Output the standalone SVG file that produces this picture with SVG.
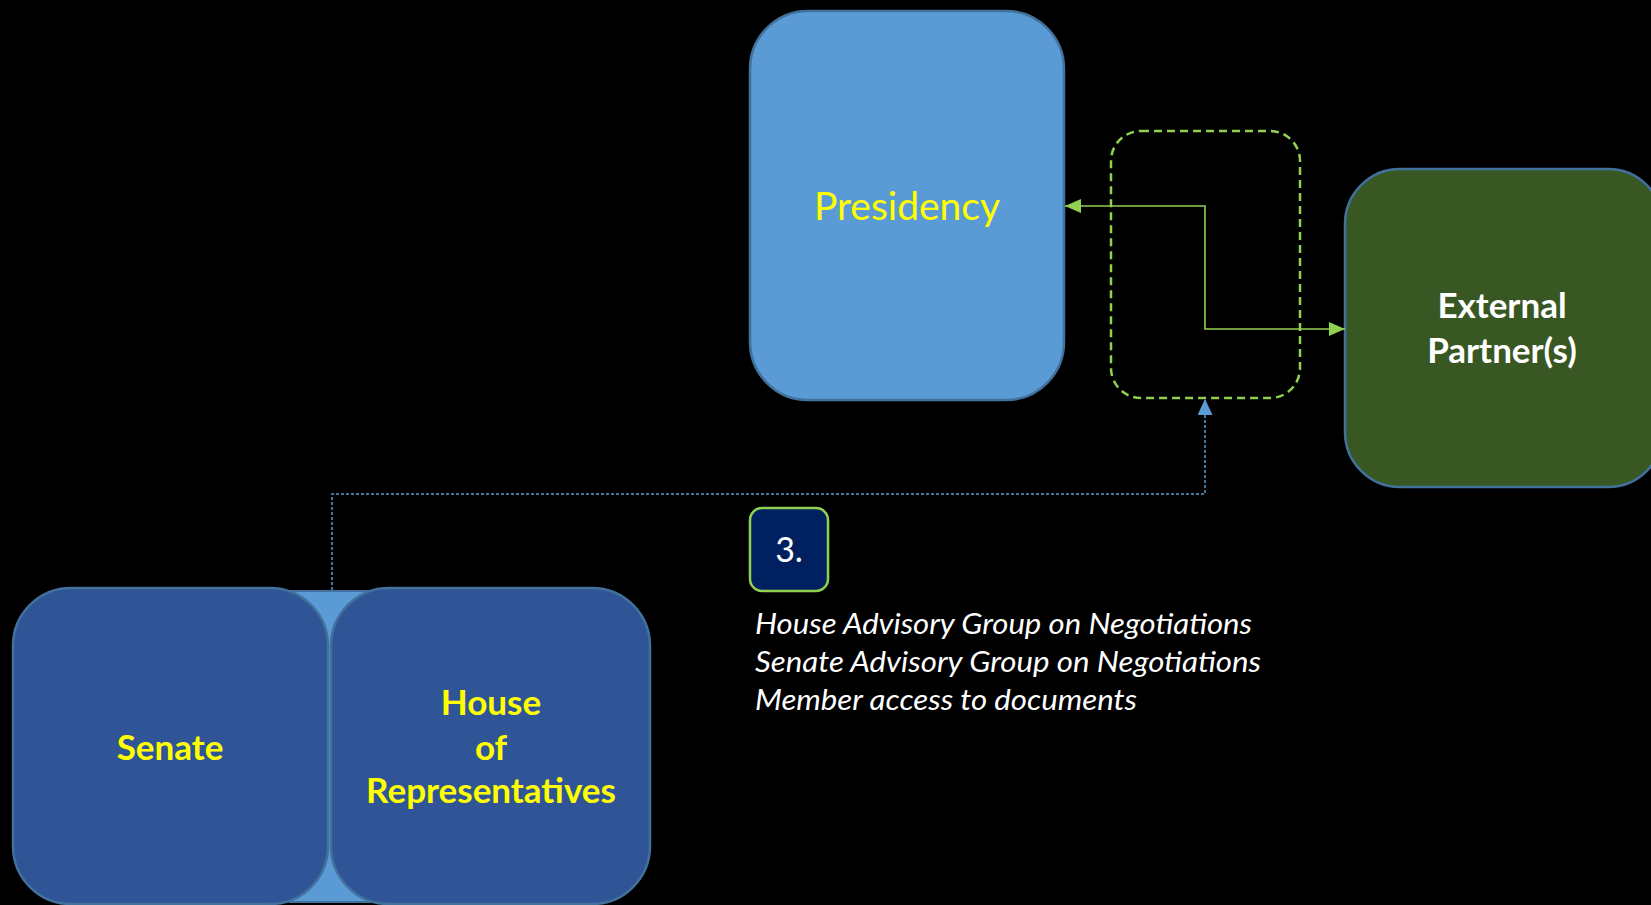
<svg xmlns="http://www.w3.org/2000/svg" width="1651" height="905" viewBox="0 0 1651 905">
<style>
.box{stroke:#41719C;stroke-width:2.5}
.lbl{font-family:Lato,"Open Sans","Liberation Sans",sans-serif;text-anchor:middle}
.b{font-weight:bold}
.note{font-family:Lato,"Open Sans","Liberation Sans",sans-serif;font-style:italic;fill:#FFFFFF;font-size:29px}
</style>
<defs>
<marker id="ga" viewBox="0 0 16 14" refX="16" refY="7" markerWidth="16" markerHeight="14" markerUnits="userSpaceOnUse" orient="auto-start-reverse"><path d="M0,0 L16,7 L0,14 Z" fill="#92D050"/></marker>
<marker id="ba" viewBox="0 0 16 15" refX="16" refY="7.5" markerWidth="16" markerHeight="15" markerUnits="userSpaceOnUse" orient="auto"><path d="M0,0 L16,7.5 L0,15 Z" fill="#5B9BD5"/></marker>
</defs>
<rect width="1651" height="905" fill="#000000"/>
<g id="presidency">
<rect class="box" x="750" y="11" width="314" height="389" rx="58" fill="#5B9BD5"/>
<text class="lbl" x="907" y="220" font-size="39" fill="#FFFF00">Presidency</text>
</g>
<g id="negotiation-zone">
<rect x="1111" y="131" width="189" height="267" rx="30" fill="none" stroke="#92D050" stroke-width="2.5" stroke-dasharray="8,5"/>
</g>
<g id="external-partners">
<rect class="box" x="1345" y="169" width="318" height="318" rx="55" fill="#385723"/>
<text class="lbl b" x="1502" y="318" font-size="35" fill="#FFFFFF">External</text>
<text class="lbl b" x="1502" y="363" font-size="35" fill="#FFFFFF">Partner(s)</text>
</g>
<g id="congress">
<rect x="290" y="591" width="80" height="311" fill="#5B9BD5" stroke="#41719C" stroke-width="2"/>
<g id="senate">
<rect class="box" x="13" y="588" width="315" height="316" rx="58" fill="#2F5597"/>
<text class="lbl b" x="170" y="760" font-size="35" fill="#FFFF00">Senate</text>
</g>
<g id="house">
<rect class="box" x="331" y="588" width="319" height="316" rx="58" fill="#2F5597"/>
<text class="lbl b" x="491" y="715" font-size="35" fill="#FFFF00">House</text>
<text class="lbl b" x="491" y="760" font-size="35" fill="#FFFF00">of</text>
<text class="lbl b" x="491" y="803" font-size="35" fill="#FFFF00">Representatives</text>
</g>
</g>
<g id="step3">
<rect x="750" y="508" width="78" height="83" rx="12" fill="#002060" stroke="#92D050" stroke-width="2.5"/>
<text class="lbl" x="789" y="562" font-size="34" fill="#FFFFFF">3.</text>
</g>
<g id="notes">
<text class="note" x="755" y="634" textLength="497" lengthAdjust="spacingAndGlyphs">House Advisory Group on Negotiations</text>
<text class="note" x="755" y="672" textLength="506" lengthAdjust="spacingAndGlyphs">Senate Advisory Group on Negotiations</text>
<text class="note" x="755" y="710" textLength="382" lengthAdjust="spacingAndGlyphs">Member access to documents</text>
</g>
<g id="connectors">
<path d="M1345,329 L1205,329 L1205,206 L1065,206" fill="none" stroke="#92D050" stroke-width="1.6" marker-end="url(#ga)" marker-start="url(#ga)"/>
<path d="M332,590 L332,494 L1205,494 L1205,399" fill="none" stroke="#5B9BD5" stroke-width="1.5" stroke-dasharray="3,2" marker-end="url(#ba)"/>
</g>
</svg>
